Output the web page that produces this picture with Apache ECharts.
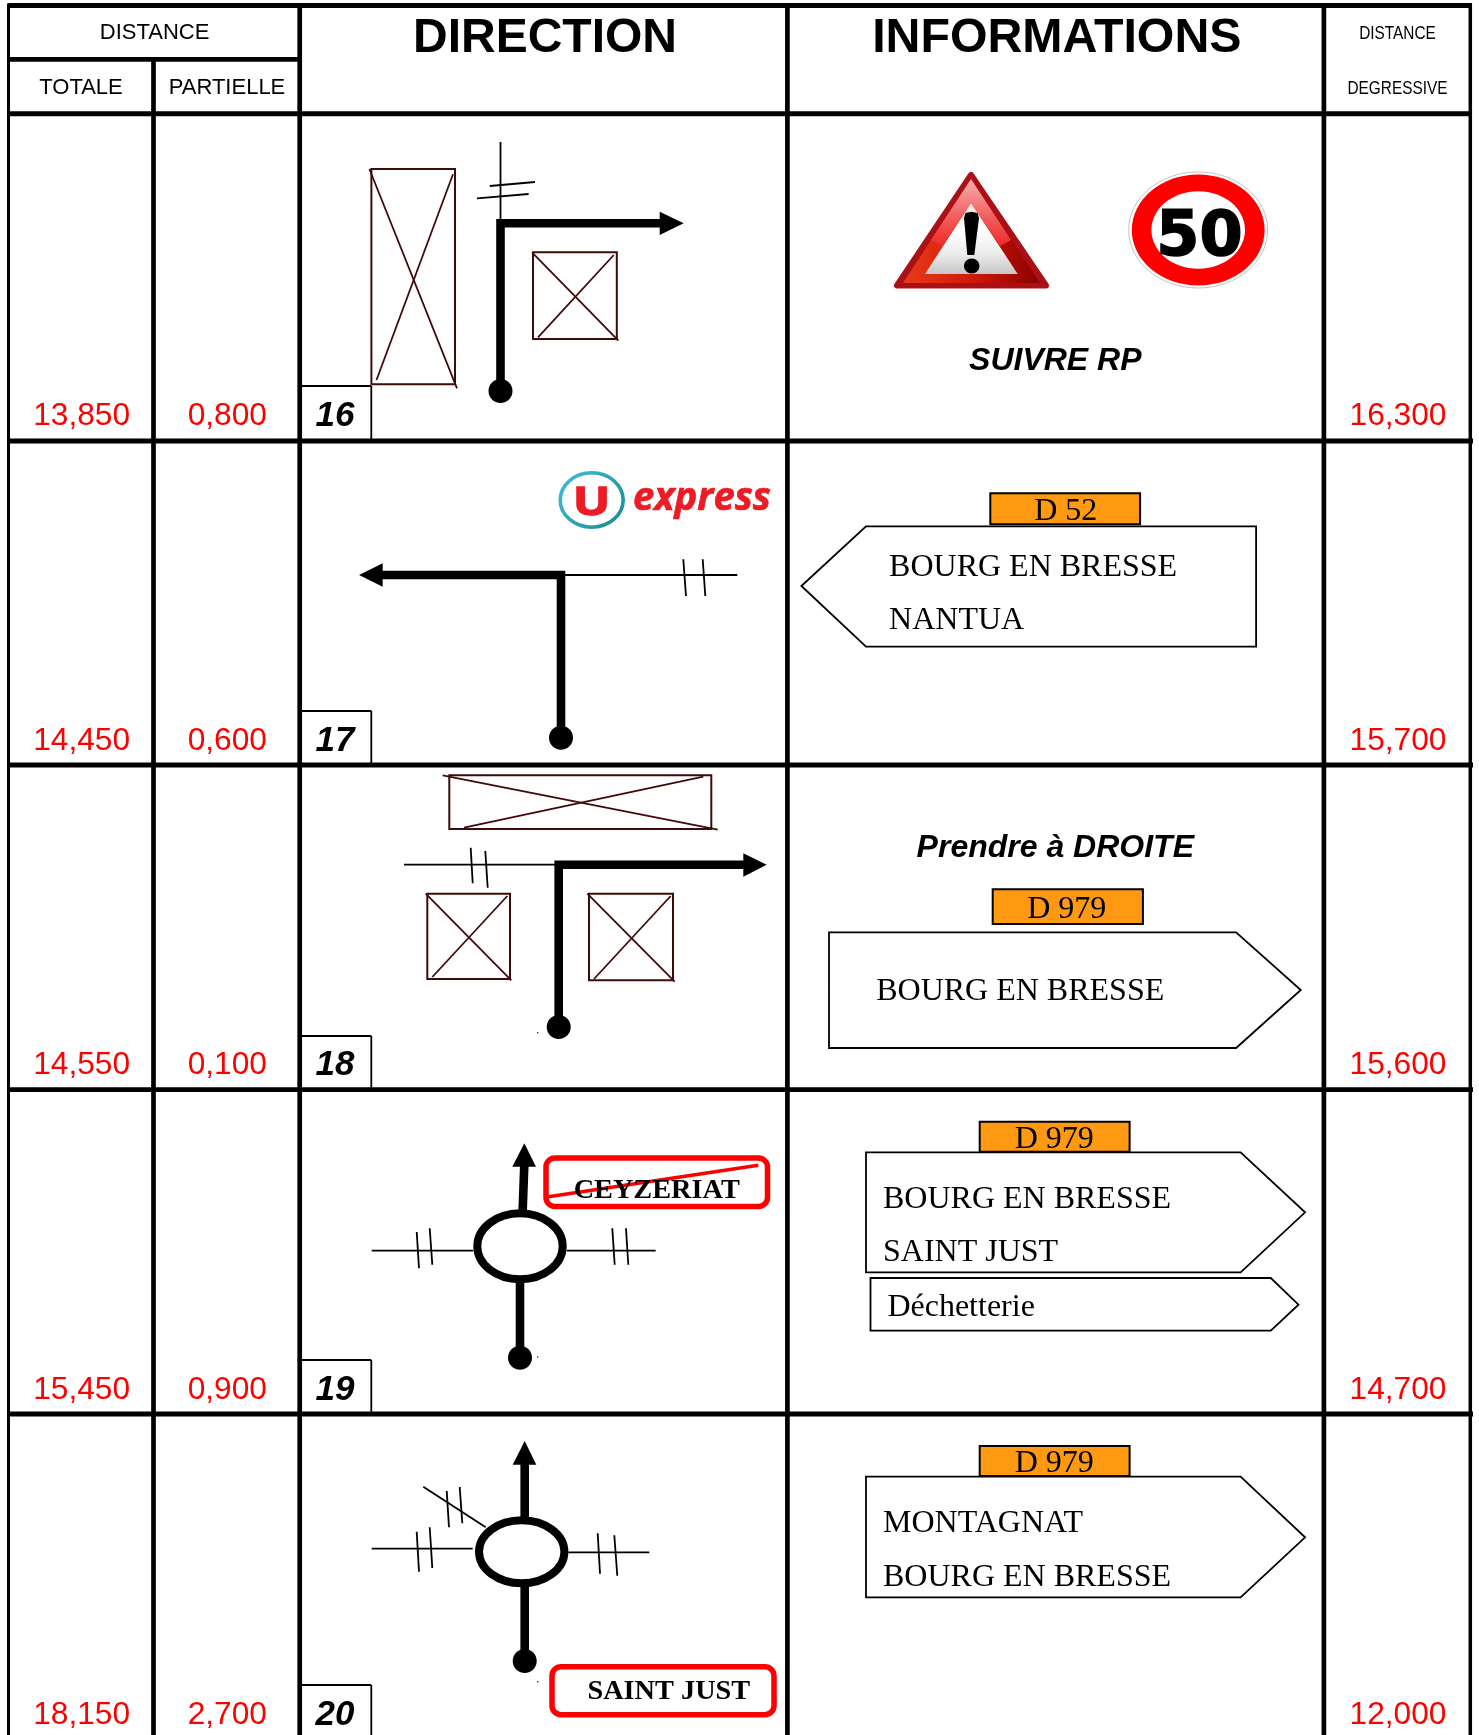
<!DOCTYPE html>
<html><head><meta charset="utf-8">
<style>html,body{margin:0;padding:0;background:#fff}#c{width:1479px;height:1735px}</style>
<script src="https://cdn.jsdelivr.net/npm/echarts@6/dist/echarts.min.js"></script>
</head><body><div id="c"></div>
<script>
// ---- table content
const rowNumbers = ['16','17','18','19','20'];
const totale     = ['13,850','14,450','14,550','15,450','18,150'];
const partielle  = ['0,800','0,600','0,100','0,900','2,700'];
const degressive = ['16,300','15,700','15,600','14,700','12,000'];
const rowTextY   = [414, 739, 1063, 1388, 1713];
const rowBoxTop  = [386, 711, 1036, 1360, 1685];
const rowLineY   = [441, 765, 1089.7, 1414];
const colLineX   = [153.5, 299.7, 787.4, 1323.9];
const colLineTop = [59, 5, 5, 5];

// ---- road drawings: [x1,y1,x2,y2] thin lines in picture units
const thinRoads = [
 [500.5,142,500.5,220],[489.8,186,535,182],[477,198.3,528.6,194],
 [563,575,737.3,575],[683.3,559.3,686,596],[702.7,559.3,705.3,596],
 [404,864.7,556,864.7],[470.7,847.7,472.7,883.3],[485.3,851,487.7,887.7],
 [371.7,1250.7,473.3,1250.7],[566.7,1250.7,655.7,1250.7],[416.7,1232,419,1268.3],[429.7,1228.3,432.3,1264.7],[612.3,1228.3,614.7,1264.7],[626,1228.3,628.3,1264.7],
 [423.3,1486.7,485.7,1527.3],[371.7,1548.7,472.7,1548.7],[568.3,1552.3,649.3,1552.3],[446.7,1491,449,1527.3],[459.7,1487,462.3,1523.3],[416.7,1531.7,419,1571.7],[429.7,1527.3,432.3,1568],[597.7,1533.3,600,1573.7],[614.3,1535.3,617.3,1575.7]
];
// buildings: rectangle [x1,y1,x2,y2], then two crossing strokes
const buildings = [
 [[371.4,169,455,384.3],[369.4,169,457,388.3],[453,174.3,376.5,380]],
 [[533,252.3,616.8,339],[532,252.3,618.4,340.7],[613.8,255,538,337.3]],
 [[449.3,775.3,711.3,829],[442.7,775.3,717.7,829.7],[703.3,776.7,464,827.7]],
 [[427.3,893.7,510,979],[425.7,893.7,511.3,980.3],[507.3,896,432.3,977]],
 [[589,893.7,673,980.3],[587.3,893.7,674.7,981.7],[670.7,896,594,979]]
];
// route polylines
const routes = [
 [[500.5,391],[500.5,223.3],[661,223.3]],
 [[561,738],[561,575],[382,575]],
 [[558.7,1027],[558.7,864.7],[745,864.7]],
 [[522.7,1210],[524.3,1165]],
 [[520,1283],[520,1358]],
 [[524.7,1517],[524.7,1464]],
 [[524.7,1586],[524.7,1661]]
];
const arrowHeads = [
 [[683.7,223.3],[659.7,211.7],[659.7,235]],
 [[359,575],[382.7,563.3],[382.7,586.7]],
 [[766.7,864.7],[743.3,853.3],[743.3,876.7]],
 [[524.3,1143.3],[512.3,1166.7],[536,1166.7]],
 [[524.7,1441],[512.7,1464.7],[536.3,1464.7]]
];
const startDots = [[500.5,391],[561,737.7],[558.7,1027],[520,1357.7],[524.7,1661]];
const specks = [[537.7,1032.7],[537.7,1357],[537.7,1681.7]];
const roundabouts = [[520,1246.3,42.7,33],[521.7,1551.7,42.7,31.5]];

// ---- signs
const routeTags = [
 ['D 52',990.3,493.3,1140.1,524.3,1065.7,509.3],
 ['D 979',992.7,889.3,1142.9,924,1066.7,907.7],
 ['D 979',979.7,1121.7,1129.6,1151.7,1054.2,1137.3],
 ['D 979',979.7,1446,1129.6,1476,1054.2,1461.7]
];
const signOutlines = [
 [[801.4,586],[866,526.3],[1256.1,526.3],[1256.1,646.7],[866,646.7]],
 [[829,932.3],[1236.1,932.3],[1300.8,990],[1236.1,1048],[829,1048]],
 [[866,1152.3],[1240.6,1152.3],[1305.1,1212.3],[1240.6,1272.3],[866,1272.3]],
 [[870.5,1278],[1270.8,1278],[1298.5,1304.7],[1270.8,1330.7],[870.5,1330.7]],
 [[866,1476.7],[1240.6,1476.7],[1305.1,1537.3],[1240.6,1597.3],[866,1597.3]]
];
const signTexts = [
 ['BOURG EN BRESSE',889.1,565],['NANTUA',889.1,618.7],
 ['BOURG EN BRESSE',876.2,989.3],
 ['BOURG EN BRESSE',883,1197.3],['SAINT JUST',883,1250.7],['Déchetterie',887.4,1305.7],
 ['MONTAGNAT',883,1521.3],['BOURG EN BRESSE',883,1575]
];
const redBoxes = [[546,1158,767.5,1206.5],[552,1666.7,774,1714.7]];
const redBoxTexts = [['CEYZERIAT',656.7,1188.3],['SAINT JUST',668.8,1689.3]];
const strike = [548.3,1196.7,758.3,1165.3];
const noteTexts = [['SUIVRE RP',1055.3,359],['Prendre à DROITE',1055.3,846]];

const SANS='"Liberation Sans"', SERIF='"Liberation Serif"';
const BROWN='#3f0a0a';
const marks=[];
const L=(p,w,c)=>marks.push({k:'line',p,w,c});
const P=(pts,fill,stroke,w,join)=>marks.push({k:'poly',pts,fill,stroke,w,join});
const T=(t,x,y,font,fill,align,sx,stroke,sw)=>marks.push({k:'text',t,x,y,font,fill:fill||'#000',align:align||'center',sx:sx||1,stroke,sw});
const E=(cx,cy,rx,ry,fill,stroke,w)=>marks.push({k:'ell',cx,cy,rx,ry,fill,stroke,w});
const R=(r,fill,stroke,w,rad)=>marks.push({k:'rect',r,fill,stroke,w,rad});
const grad=(x,y,x2,y2,stops)=>({type:'linear',x,y,x2,y2,global:false,colorStops:stops.map(c=>({offset:c[0],color:c[1]}))});

// table rules
L([8.5,5.5,1472,5.5],4.8,'#000');
L([8.5,59.3,300,59.3],4.8,'#000');
L([8.5,113.7,1472,113.7],5,'#000');
rowLineY.forEach(y=>L([7,y,1473,y],4.8,'#000'));
L([8.5,3.5,8.5,1735],3,'#000');
L([1470.3,3.5,1470.3,1735],3.5,'#000');
colLineX.forEach((x,i)=>L([x,colLineTop[i],x,1735],4.7,'#000'));

// headers
T('DISTANCE',154.6,31.7,'22px '+SANS);
T('TOTALE',81,86.7,'22px '+SANS);
T('PARTIELLE',227,86.7,'22px '+SANS);
T('DIRECTION',545,35.7,'bold 48px '+SANS);
T('INFORMATIONS',1056.8,35.7,'bold 48.3px '+SANS);
T('DISTANCE',1397.5,32.3,'19px '+SANS,null,'center',0.81);
T('DEGRESSIVE',1397.5,87.7,'19px '+SANS,null,'center',0.81);

// rows
rowNumbers.forEach((n,i)=>{
  const y=rowTextY[i];
  T(totale[i],81.6,y,'31.7px '+SANS,'#ff0000');
  T(partielle[i],227.3,y,'31.7px '+SANS,'#ff0000');
  T(degressive[i],1398,y,'31.7px '+SANS,'#ff0000');
  const bottom=i<rowLineY.length?rowLineY[i]:1735;
  L([302,rowBoxTop[i],371.3,rowBoxTop[i]],1.8,'#000');
  L([371.3,rowBoxTop[i],371.3,bottom],1.8,'#000');
  T(n,335,y,'italic bold 35px '+SANS);
});

// buildings
buildings.forEach(b=>{
  R(b[0],null,BROWN,2,0);
  L(b[1],1.8,BROWN); L(b[2],1.8,BROWN);
});
// roads
thinRoads.forEach(p=>L(p,1.8,'#000'));
routes.forEach(p=>marks.push({k:'pline',pts:p,w:8.6,c:'#000'}));
arrowHeads.forEach(a=>P(a,'#000'));
startDots.forEach(d=>E(d[0],d[1],12,12,'#000'));
specks.forEach(d=>E(d[0],d[1],0.7,0.7,'#000'));
roundabouts.forEach(r=>E(r[0],r[1],r[2],r[3],'#fff','#000',8));

// warning triangle
P([[971,175],[897,285.5],[1046,285.5]],'#ab1016','#ab1016',6,'round');
P([[971,179],[903,283],[1040,283]],grad(0,0,1,0,[[0,'#ea3a18'],[.5,'#d01a08'],[1,'#8a0000']]));
P([[971,179],[931,240],[942,246],[971,203],[1000,246],[1011,240]],grad(0,0,0,1,[[0,'#f5b0b0'],[.6,'#f25a5a'],[1,'#f02a2a']]));
P([[971,203],[925,274],[1017.7,274]],grad(0,0,0,1,[[0,'#f2dede'],[.35,'#ffffff'],[.7,'#eeeeee'],[1,'#c6c6c6']]));
P([[964,218],[965.5,213],[971.5,211.7],[977.5,213],[979,218],[974.3,255],[967.3,255]],'#000');
E(971.7,266,7.7,7.5,'#000');

// speed sign
E(1198.2,230,69.5,58,'#fff','#c4c4c4',1);
E(1198.2,230,66.4,55.5,'#ff0000');
E(1198.2,230,46.8,38.8,'#fff');
T('50',1199.5,235,'bold 62px "DejaVu Sans"',null,'center',1.0,'#000',1.6);

// notes
noteTexts.forEach(n=>T(n[0],n[1],n[2],'italic bold 32px '+SANS));

// U express logo
E(591.7,500,31.5,27.2,'#fff',grad(0,0,1,1,[[0,'#42bfe0'],[1,'#1a8a8a']]),3.6);
T('U',591.7,501,'bold 40px '+SANS,'#ed1c24','center',1.2,'#ed1c24',1.5);
T('express',633,496,'italic bold 39px "Open Sans"','#ed1c24','left',0.98,'#ed1c24',0.7);

// road signs
signOutlines.forEach(s=>P(s,'#fff','#000',1.8,'miter'));
routeTags.forEach(t=>{R([t[1],t[2],t[3],t[4]],'#ff9912','#000',2,0);T(t[0],t[5],t[6],'32px '+SERIF);});
signTexts.forEach(t=>T(t[0],t[1],t[2],'32px '+SERIF,null,'left'));

// red boxes
redBoxes.forEach(r=>R(r,'#fff','#ff0000',5.5,9));
L(strike,3.5,'#ff0000');
redBoxTexts.forEach(t=>T(t[0],t[1],t[2],'bold 28.3px '+SERIF));

function renderItem(params,api){
  const m=marks[api.value(0)];
  const c=(x,y)=>api.coord([x,y]);
  if(m.k==='line'){const a=c(m.p[0],m.p[1]),b=c(m.p[2],m.p[3]);
    return {type:'line',shape:{x1:a[0],y1:a[1],x2:b[0],y2:b[1]},style:{stroke:m.c,lineWidth:m.w,fill:null}};}
  if(m.k==='pline') return {type:'polyline',shape:{points:m.pts.map(p=>c(p[0],p[1]))},style:{stroke:m.c,lineWidth:m.w,fill:null,lineJoin:'miter'}};
  if(m.k==='poly') return {type:'polygon',shape:{points:m.pts.map(p=>c(p[0],p[1]))},style:{fill:m.fill,stroke:m.stroke||null,lineWidth:m.w||0,lineJoin:m.join||'miter'}};
  if(m.k==='ell'){const o=c(m.cx,m.cy),e=c(m.cx+m.rx,m.cy+m.ry);
    return {type:'ellipse',shape:{cx:o[0],cy:o[1],rx:e[0]-o[0],ry:e[1]-o[1]},style:{fill:m.fill,stroke:m.stroke||null,lineWidth:m.w||0}};}
  if(m.k==='rect'){const a=c(m.r[0],m.r[1]),b=c(m.r[2],m.r[3]);
    return {type:'rect',shape:{x:a[0],y:a[1],width:b[0]-a[0],height:b[1]-a[1],r:m.rad||0},style:{fill:m.fill||null,stroke:m.stroke,lineWidth:m.w}};}
  const p=c(m.x,m.y);
  const size=parseFloat(m.font.match(/([\d.]+)px/)[1]);
  return {type:'text',x:p[0],y:p[1]+size*0.07,scaleX:m.sx,style:{text:m.t,x:0,y:0,font:m.font,fill:m.fill,align:m.align,verticalAlign:'middle',stroke:m.stroke||null,lineWidth:m.sw||0}};
}

const chart=echarts.init(document.getElementById('c'),null,{renderer:'canvas'});
chart.setOption({
  animation:false,
  backgroundColor:'#fff',
  grid:{left:0,right:0,top:0,bottom:0},
  xAxis:{type:'value',min:0,max:1479,show:false},
  yAxis:{type:'value',min:0,max:1735,inverse:true,show:false},
  series:[{type:'custom',coordinateSystem:'cartesian2d',clip:false,silent:true,progressive:0,
    renderItem,encode:{x:1,y:2},data:marks.map((m,i)=>[i,0,0])}]
});
</script></body></html>
